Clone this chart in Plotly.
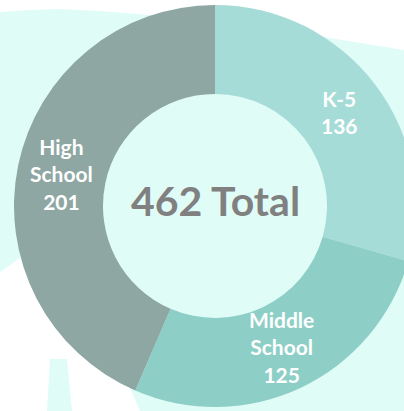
import math
import plotly.graph_objects as go

# ---- data ----
categories = ["K-5", "Middle<br>School", "High<br>School"]
values = [136, 125, 201]
total_label = "462 Total"
slice_colors = ["#a6dcd7", "#8dcfc6", "#8ea7a3"]

W, H = 430, 411
BG_CYAN = "#e0fcf7"


def px(x):
    return x / W


def py(y):
    return 1 - y / H


def path(points):
    s = "M " + " L ".join(f"{px(x):.5f},{py(y):.5f}" for x, y in points) + " Z"
    return s


# background shapes (decorative)
cx, cy, r_out, r_in = 215, 206, 201, 112
bg_main = [(0, 12), (30, 10), (60, 9), (100, 11), (150, 15), (250, 27), (330, 38),
           (404, 50), (430, 54), (430, 411), (140, 411), (60, 230), (0, 272)]
trapezoid = [(50, 359), (67, 359), (72, 411), (47, 411)]

shapes = [
    dict(type="path", path=path(bg_main), xref="paper", yref="paper",
         fillcolor=BG_CYAN, line=dict(width=0), layer="below"),
    dict(type="path", path=path(trapezoid), xref="paper", yref="paper",
         fillcolor=BG_CYAN, line=dict(width=0), layer="below"),
    dict(type="circle", xref="paper", yref="paper",
         x0=px(cx - r_in), x1=px(cx + r_in), y0=py(cy + r_in), y1=py(cy - r_in),
         fillcolor=BG_CYAN, line=dict(width=0), layer="below"),
]

fig = go.Figure()
fig.add_trace(go.Pie(
    labels=categories,
    values=values,
    sort=False,
    direction="clockwise",
    rotation=0,
    hole=r_in / r_out,
    marker=dict(colors=slice_colors, line=dict(width=0)),
    textinfo="none",
    hoverinfo="label+value",
    showlegend=False,
    domain=dict(x=[px(cx - r_out), px(cx + r_out)], y=[py(cy + r_out), py(cy - r_out)]),
))

# slice labels placed at the middle of each slice (angles derived from the values)
annotations = []
total = sum(values)
cum = 0
r_mid = (r_in + r_out) / 2
for lab, v in zip(categories, values):
    mid = (cum + v / 2) / total * 2 * math.pi
    cum += v
    lx = cx + r_mid * math.sin(mid)
    ly = cy - r_mid * math.cos(mid)
    annotations.append(dict(text=f"{lab}<br>{v}", x=px(lx), y=py(ly), xref="paper", yref="paper",
                            xanchor="center", yanchor="middle", showarrow=False,
                            font=dict(family="Lato", size=21, color="white", weight="bold")))

annotations.append(dict(text=total_label, x=px(cx), y=py(201), xref="paper", yref="paper",
                        xanchor="center", yanchor="middle", showarrow=False,
                        font=dict(family="Lato", size=41, color="#808080", weight="bold")))

fig.update_layout(
    width=W, height=H,
    margin=dict(l=0, r=0, t=0, b=0),
    paper_bgcolor="white",
    plot_bgcolor="white",
    shapes=shapes,
    annotations=annotations,
)

fig.write_html("out.html", config={"displayModeBar": False},
               post_script="document.body.style.margin='0';document.body.style.overflow='hidden';")
